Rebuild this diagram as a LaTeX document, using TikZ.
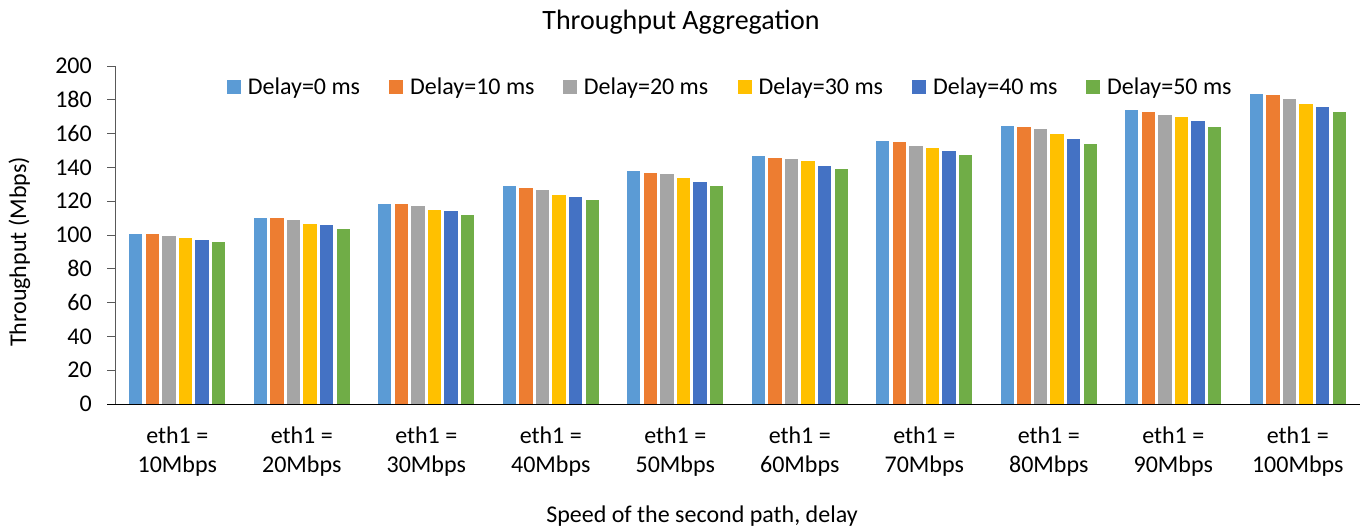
\documentclass[tikz,border=0pt]{standalone}
\usepackage{fontspec}
\setmainfont{Carlito}
\definecolor{s0}{HTML}{5B9BD5}
\definecolor{s1}{HTML}{ED7D31}
\definecolor{s2}{HTML}{A5A5A5}
\definecolor{s3}{HTML}{FFC000}
\definecolor{s4}{HTML}{4472C4}
\definecolor{s5}{HTML}{70AD47}
\definecolor{axisgray}{HTML}{595959}
\tikzset{
  lbl/.style={inner sep=0pt, font=\fontsize{24}{29}\selectfont},
  ttl/.style={inner sep=0pt, font=\fontsize{28}{33}\selectfont},
  keybox/.style={fill=#1, draw=none, minimum size=14pt, inner sep=0pt},
  bar/.style={fill=#1, draw=none},
}
\begin{document}
\begin{tikzpicture}[x=1pt, y=-1pt]
  \path[use as bounding box] (0,0) rectangle (1368,528);

  % title
  \node[ttl, anchor=base] (title) at (681,29) {Throughput Aggregation};

  % value axis with ticks and labels
  \coordinate (ytop) at (115,66);
  \coordinate (ybot) at (115,404);
  \draw[axisgray, line width=1pt] (ytop) -- (ybot);
  \foreach \v [count=\k] in {0,20,...,200} {
    \pgfmathsetmacro\yy{404-1.69*\v}
    \coordinate (t\k) at (107,\yy);
    \coordinate (u\k) at (115,\yy);
    \draw[axisgray, line width=1pt] (t\k) -- (u\k);
    \node[lbl, anchor=east] (yl\k) at (92,\yy) {\v};
  }
  \node[lbl, rotate=90, anchor=base] (ytitle) at (26,252) {Throughput (Mbps)};

  % bars: one group of six delays per link speed
  \foreach \vals [count=\g from 0] in {
    {100.6,100.6,99.4,98.2,97,95.9},
    {110,110,108.6,106.6,106,103.6},
    {118.5,118.5,117,115,114,112},
    {129,127.8,126.6,123.7,122.5,120.7},
    {137.9,136.7,136.1,133.7,131.4,129},
    {146.7,145.6,145,143.8,141,139},
    {155.6,155,152.7,151.5,149.7,147.3},
    {164.5,163.9,162.7,159.8,156.8,153.8},
    {173.8,172.6,171,169.6,167.5,163.7},
    {183.4,182.8,180.5,177.5,175.7,172.6}} {
    \pgfmathsetmacro\cx{115+(\g+0.5)*124.5}
    \foreach \v [count=\s from 0] in \vals {
      \pgfmathsetmacro\bx{\cx-41.5+16.6*\s}
      \pgfmathsetmacro\by{404-1.69*\v}
      \fill[bar=s\s] (\bx-6.7,404) rectangle (\bx+6.7,\by);
    }
  }

  % category axis
  \coordinate (xl) at (107,404);
  \coordinate (xr) at (1360,404);
  \draw[black, line width=1pt] (xl) -- (xr);
  \foreach \m [count=\g from 0] in {10,20,30,40,50,60,70,80,90,100} {
    \pgfmathsetmacro\cx{115+(\g+0.5)*124.5}
    \node[lbl, anchor=base] (ca\g) at (\cx,443.5) {eth1 =};
    \node[lbl, anchor=base] (cb\g) at (\cx,472.5) {\m Mbps};
  }
  \node[lbl, anchor=base] (xtitle) at (702,522) {Speed of the second path, delay};

  % legend
  \foreach \x/\d [count=\s from 0] in {226.7/0,389/10,562.7/20,737.5/30,912/40,1086/50} {
    \node[keybox=s\s, anchor=north west] (k\s) at (\x,79.3) {};
    \node[lbl, anchor=base west] (kt\s) at (\x+21,94) {Delay=\d\ ms};
  }
\end{tikzpicture}
\end{document}
